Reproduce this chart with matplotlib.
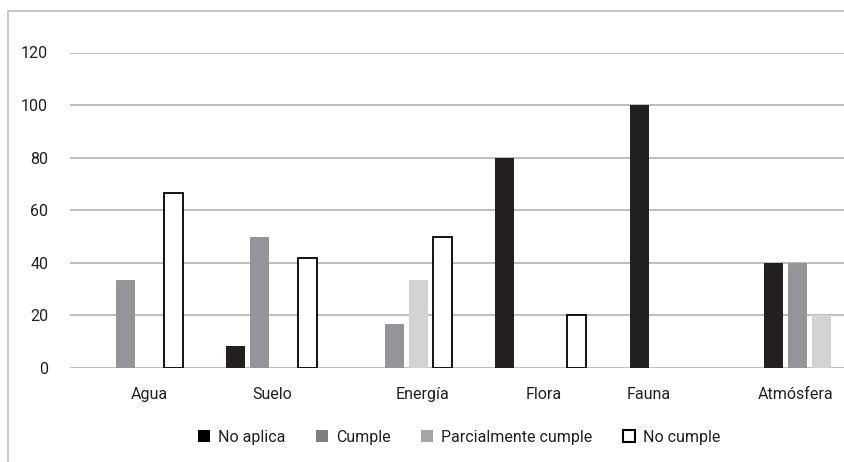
import matplotlib.pyplot as plt
from matplotlib.patches import Patch, Rectangle
import numpy as np

# Data
categorias = ['Agua', 'Suelo', 'Energía', 'Flora', 'Fauna', 'Atmósfera']
no_aplica = [0, 8.3, 0, 80, 100, 40]
cumple = [33.3, 50, 16.7, 0, 0, 40]
parcial = [0, 0, 33.3, 0, 0, 20]
no_cumple = [66.7, 41.7, 50, 20, 0, 0]
series_names = ['No aplica', 'Cumple', 'Parcialmente cumple', 'No cumple']

plt.rcParams['font.family'] = ['Roboto', 'DejaVu Sans']
txt = '#231f20'

fig = plt.figure(figsize=(8.44, 4.62), dpi=100)
# plot area runs past the right edge, as in the cropped original
ax = fig.add_axes([70.3 / 844, 94 / 462, 806.4 / 844, 315.5 / 462])

x = np.arange(len(categorias))
pitch = 0.1786
width = 0.141
fills = ['#231f20', '#939598', '#d1d3d4', 'white']
edges = ['none', 'none', 'none', 'black']
for j, vals in enumerate([no_aplica, cumple, parcial, no_cumple]):
    # no outline on empty bars
    lw = [1.3 if v > 0 else 0 for v in vals]
    ax.bar(x + (j - 1.5) * pitch, vals, width, color=fills[j],
           edgecolor=edges[j], linewidth=lw, zorder=3)

ax.set_xlim(-0.5, 5.5)
ax.set_ylim(0, 120)
ax.set_yticks(range(0, 121, 20))
ax.yaxis.grid(True, color='#bcbec0', linewidth=1.4, zorder=0)
for s in ax.spines.values():
    s.set_visible(False)

# the category labels sit a bit off their groups in the original
label_shift = [0.09, 0.0, 0.12, 0.02, -0.20, -0.10]
ax.set_xticks(x + np.array(label_shift))
ax.set_xticklabels(categorias)
ax.tick_params(axis='x', length=0, pad=14, labelsize=11.5, labelcolor=txt)
ax.tick_params(axis='y', length=0, pad=16, labelsize=11.5, labelcolor=txt)

handles = [Patch(facecolor='black', edgecolor='none'),
           Patch(facecolor='#7f7f7f', edgecolor='none'),
           Patch(facecolor='#a6a6a6', edgecolor='none'),
           Patch(facecolor='white', edgecolor='black', linewidth=1.5)]
fig.legend(handles, series_names, loc='center', bbox_to_anchor=(0.544, 0.054),
           ncol=4, frameon=False, fontsize=11.5, handlelength=0.75,
           handleheight=0.75, handletextpad=0.5, columnspacing=1.9,
           labelcolor=txt)

# outer chart frame (cut off at right and bottom)
fig.patches.append(Rectangle((8 / 844, -0.1), 1.2, (462 - 11) / 462 + 0.1,
                             transform=fig.transFigure, fill=False,
                             edgecolor='#bcbec0', linewidth=1.2))

fig.savefig('out.png', dpi=100)
